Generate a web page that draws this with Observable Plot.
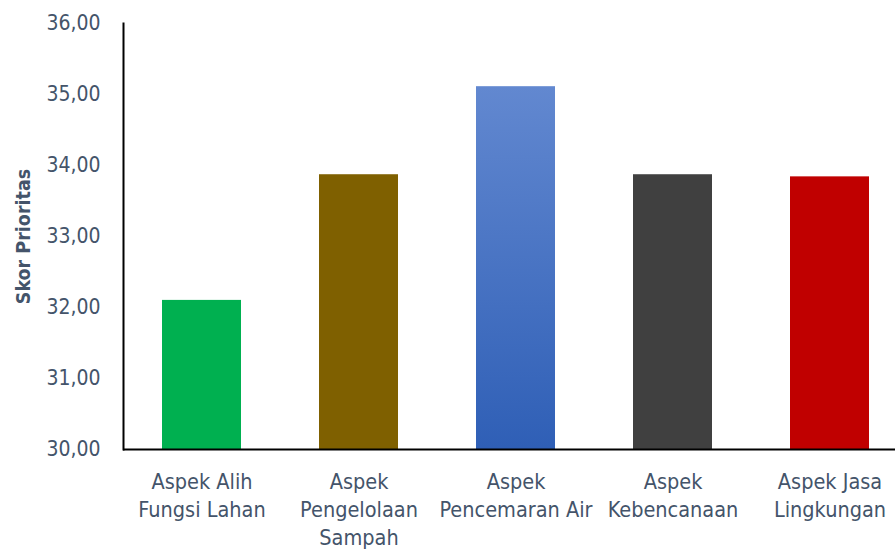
<!DOCTYPE html>
<html>
<head>
<meta charset="utf-8">
<script src="https://cdn.jsdelivr.net/npm/d3@7"></script>
<script src="https://cdn.jsdelivr.net/npm/@observablehq/plot@0.6"></script>
<style>
  html, body { margin: 0; padding: 0; background: #fff; }
  #chart svg { display: block; }
</style>
</head>
<body>
<div id="chart"></div>
<script>
const categories = ["Alih Fungsi Lahan", "Pengelolaan Sampah", "Pencemaran Air", "Kebencanaan", "Jasa Lingkungan"];
const labels = ["Aspek Alih\nFungsi Lahan", "Aspek\nPengelolaan\nSampah", "Aspek\nPencemaran Air", "Aspek\nKebencanaan", "Aspek Jasa\nLingkungan"];
const values = [32.10, 33.87, 35.11, 33.87, 33.84];
const colors = ["#00b050", "#7f6000", "url(#blueGrad)", "#404040", "#c00000"];
const yTicks = [30, 31, 32, 33, 34, 35, 36];

const data = categories.map((c, i) => ({category: c, label: labels[i], value: values[i]}));
const font = "'DejaVu Sans Condensed', 'DejaVu Sans', sans-serif";
const textColor = "#44546a";

const plot = Plot.plot({
  width: 895,
  height: 549,
  marginTop: 23,
  marginBottom: 100,
  marginLeft: 123,
  marginRight: 0,
  style: {fontFamily: font, background: "#fff"},
  x: {domain: categories, range: [123, 908], paddingInner: 0.5, paddingOuter: 0.25, axis: null},
  y: {domain: [30, 36], axis: null},
  color: {domain: categories, range: colors},
  marks: [
    Plot.barY(data, {x: "category", y1: 30, y2: "value", fill: "category"}),
    Plot.axisY({ticks: yTicks, tickSize: 0, tickPadding: 23,
      fill: textColor, fontSize: 21, label: null,
      tickFormat: d => d.toFixed(2).replace(".", ",")}),
    Plot.frame({anchor: "left", stroke: "#000", strokeWidth: 2}),
    Plot.ruleY([30], {stroke: "#000", strokeWidth: 2}),
    Plot.text(data, {x: "category", text: "label", frameAnchor: "bottom", lineAnchor: "top", dy: 19,
      fontSize: 21.5, lineHeight: 1.32, fill: textColor}),
    Plot.text(["Skor Prioritas"], {text: d => d, frameAnchor: "left", textAnchor: "middle", dx: -100, rotate: -90,
      fontSize: 19.5, fontWeight: "bold", fill: textColor})
  ]
});

const defs = `<defs><linearGradient id="blueGrad" x1="0" y1="0" x2="0" y2="1">
  <stop offset="0" stop-color="#6288d0"/><stop offset="1" stop-color="#2f5fb6"/>
</linearGradient></defs>`;
plot.insertAdjacentHTML("afterbegin", defs);
document.getElementById("chart").appendChild(plot);
</script>
</body>
</html>
